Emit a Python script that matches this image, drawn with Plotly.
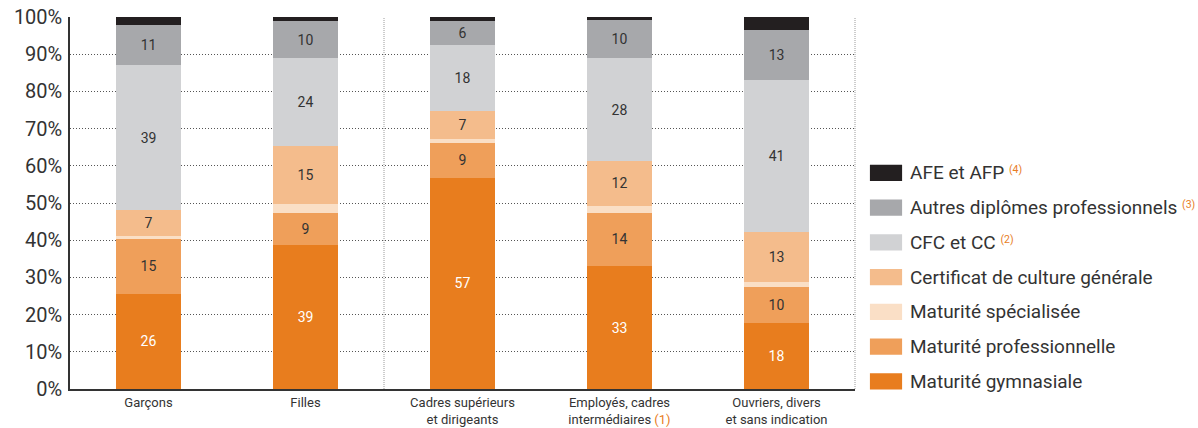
import plotly.graph_objects as go

# Catégories (axe x) et étiquettes affichées
categories = ["Garçons", "Filles", "Cadres supérieurs et dirigeants",
              "Employés, cadres intermédiaires", "Ouvriers, divers et sans indication"]
tick_labels = ["Garçons", "Filles", "Cadres supérieurs<br>et dirigeants",
               "Employés, cadres<br>intermédiaires <span style='color:#E87D1E'>(1)</span>",
               "Ouvriers, divers<br>et sans indication"]

# Parts en %, de bas en haut
maturite_gymnasiale = [25.6, 38.6, 56.8, 33.0, 17.8]
maturite_professionnelle = [14.8, 8.8, 9.4, 14.4, 9.6]
maturite_specialisee = [0.6, 2.4, 1.1, 1.9, 1.3]
certificat_culture = [7.2, 15.4, 7.4, 11.9, 13.4]
cfc_cc = [38.8, 23.7, 17.9, 27.8, 41.0]
autres_diplomes = [10.8, 9.9, 6.4, 10.1, 13.3]
afe_afp = [2.2, 1.2, 1.0, 0.9, 3.6]

FONT = "Roboto, Liberation Sans, sans-serif"
ORANGE = "#E87D1E"
TXT = "#333333"

def note(n):
    return f" <span style='color:{ORANGE};font-size:15px'><sup>({n})</sup></span>"

series = [
    ("Maturité gymnasiale", maturite_gymnasiale, "#E87D1E", "white"),
    ("Maturité professionnelle", maturite_professionnelle, "#EF9F5A", TXT),
    ("Maturité spécialisée", maturite_specialisee, "#FADFC6", TXT),
    ("Certificat de culture générale", certificat_culture, "#F4BC8C", TXT),
    ("CFC et CC" + note(2), cfc_cc, "#D1D2D4", TXT),
    ("Autres diplômes professionnels" + note(3), autres_diplomes, "#A7A8AB", TXT),
    ("AFE et AFP" + note(4), afe_afp, "#231F20", "white"),
]

fig = go.Figure()
for nom, vals, couleur, tcol in series:
    fig.add_trace(go.Bar(
        x=list(range(len(categories))), y=vals, name=nom,
        marker=dict(color=couleur, line=dict(width=0)),
        width=0.41,
        text=[f"{v:.0f}" if v >= 5 else "" for v in vals],
        textposition="inside", insidetextanchor="middle",
        textfont=dict(color=tcol, size=14, family=FONT),
        constraintext="none",
        showlegend=False,
    ))

# Légende manuelle (grands carrés comme dans l'original)
y0, pas = 0.581, 0.0934
for i, (nom, vals, couleur, tcol) in enumerate(reversed(series)):
    yc = y0 - i * pas
    fig.add_shape(type="rect", xref="paper", yref="paper",
                  x0=1.019, x1=1.060, y0=yc - 0.022, y1=yc + 0.022,
                  fillcolor=couleur, line=dict(width=0))
    fig.add_annotation(xref="paper", yref="paper", x=1.068, y=yc,
                       text=nom, showarrow=False, xanchor="left", yanchor="middle",
                       font=dict(size=19, color=TXT, family=FONT))

# Séparateur pointillé entre sexe et catégorie socioprofessionnelle
fig.add_shape(type="line", xref="x", yref="paper", x0=1.5, x1=1.5, y0=0, y1=1,
              line=dict(color="#9a9a9a", width=1, dash="1px,1px"))
# Bord droit pointillé
fig.add_shape(type="line", xref="paper", yref="paper", x0=1, x1=1, y0=0, y1=1,
              line=dict(color="#9a9a9a", width=1, dash="1px,1px"))

fig.update_layout(
    barmode="stack",
    width=1198, height=428,
    margin=dict(l=70, r=343, t=17, b=39),
    plot_bgcolor="white", paper_bgcolor="white",
    font=dict(family=FONT, color=TXT),
)
fig.update_xaxes(
    tickvals=list(range(len(categories))), ticktext=tick_labels,
    range=[-0.5, len(categories) - 0.5],
    showline=True, linecolor="#333333", linewidth=2,
    ticks="", tickfont=dict(size=13, color=TXT, family=FONT),
    showgrid=False, automargin=False,
)
fig.update_yaxes(
    range=[0, 100], dtick=10, ticksuffix="%",
    showline=True, linecolor="#333333", linewidth=1.5,
    showgrid=True, gridcolor="#555555", griddash="1px,2px", gridwidth=1,
    tickfont=dict(size=20, color=TXT, family=FONT),
    ticks="", ticklabelstandoff=2,
    zeroline=False, automargin=False,
)

# Supprime la marge par défaut du <body> pour que la figure occupe toute la fenêtre
fig.write_html("out.html", config={"displayModeBar": False},
               post_script="document.body.style.margin='0';")
